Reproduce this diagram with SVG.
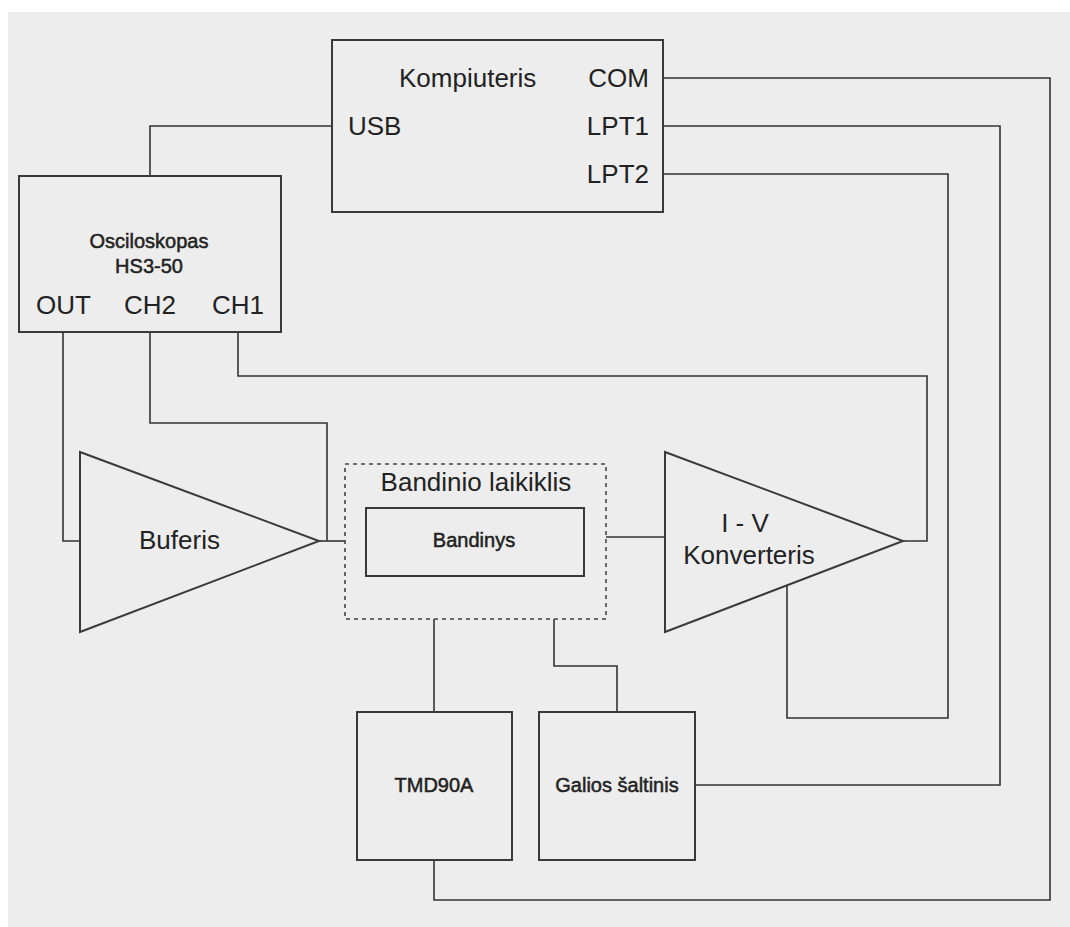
<svg xmlns="http://www.w3.org/2000/svg" width="1070" height="927" viewBox="0 0 1070 927">
<style>
.bg{fill:#ededed}
.box{fill:#ededed;stroke:#3a3a3a;stroke-width:2}
.dash{fill:none;stroke:#444;stroke-width:1.6;stroke-dasharray:4 4}
.wire{fill:none;stroke:#333;stroke-width:1.6}
.t{font-family:"Liberation Sans",Arial,sans-serif;font-size:26px;fill:#222}
.s{font-family:"Liberation Sans",Arial,sans-serif;font-size:20px;fill:#222;stroke:#222;stroke-width:0.5}
.c{text-anchor:middle}
.e{text-anchor:end}
</style>
<rect x="0" y="0" width="1070" height="927" fill="#ffffff"/>
<rect class="bg" x="8" y="12" width="1062" height="915"/>
<g id="connectors">
<polyline class="wire" points="663,78 1050,78 1050,900 434,900 434,860"/>
<polyline class="wire" points="663,126 1000,126 1000,785 695,785"/>
<polyline class="wire" points="663,174 948,174 948,718 787,718 787,586"/>
<polyline class="wire" points="332,126 150,126 150,176"/>
<polyline class="wire" points="63,332 63,541 80,541"/>
<polyline class="wire" points="150,332 150,423 327,423 327,541"/>
<line class="wire" x1="319" y1="541" x2="345" y2="541"/>
<polyline class="wire" points="238,332 238,376 927,376 927,541 903,541"/>
<line class="wire" x1="606" y1="537" x2="665" y2="537"/>
<line class="wire" x1="434" y1="619" x2="434" y2="712"/>
<polyline class="wire" points="554,619 554,666 617,666 617,712"/>
</g>
<g id="kompiuteris">
<rect class="box" x="332" y="40" width="331" height="172"/>
<text class="t" x="399" y="87">Kompiuteris</text>
<text class="t e" x="649" y="87">COM</text>
<text class="t" x="348" y="135">USB</text>
<text class="t e" x="649" y="135">LPT1</text>
<text class="t e" x="649" y="183">LPT2</text>
</g>
<g id="osciloskopas">
<rect class="box" x="19" y="176" width="262" height="156"/>
<text class="s c" x="149" y="248">Osciloskopas</text>
<text class="s c" x="149" y="273">HS3-50</text>
<text class="t" x="36" y="314">OUT</text>
<text class="t" x="124" y="314">CH2</text>
<text class="t" x="212" y="314">CH1</text>
</g>
<g id="buferis">
<polygon class="box" points="80,452 319,541 80,632"/>
<text class="t" x="139" y="549">Buferis</text>
</g>
<g id="bandinio-laikiklis">
<rect class="dash" x="345" y="464" width="261" height="155"/>
<text class="t c" x="476" y="491">Bandinio laikiklis</text>
</g>
<g id="bandinys">
<rect class="box" x="366" y="508" width="218" height="68"/>
<text class="s c" x="474" y="547">Bandinys</text>
</g>
<g id="konverteris">
<polygon class="box" points="665,452 903,541 665,632"/>
<text class="t c" x="745" y="532">I - V</text>
<text class="t c" x="749" y="564">Konverteris</text>
</g>
<g id="tmd90a">
<rect class="box" x="357" y="712" width="155" height="148"/>
<text class="s c" x="434" y="792">TMD90A</text>
</g>
<g id="galios-saltinis">
<rect class="box" x="539" y="712" width="156" height="148"/>
<text class="s c" x="617" y="792">Galios šaltinis</text>
</g>
</svg>
